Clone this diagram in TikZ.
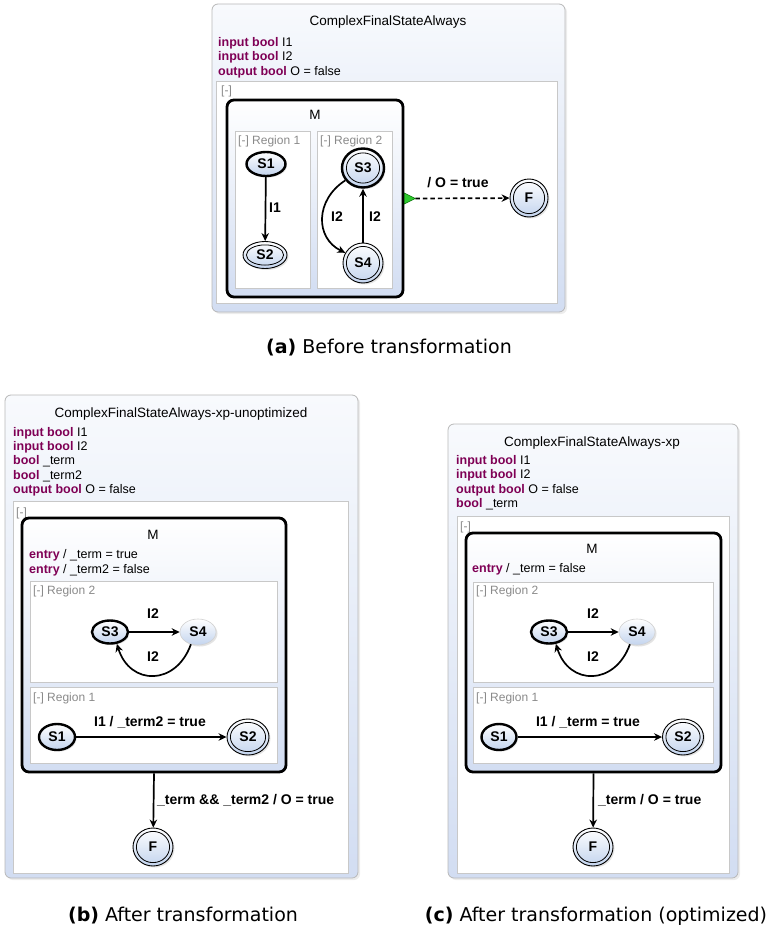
\documentclass[tikz,border=0pt]{standalone}
\usepackage{fontspec}
\setmainfont{Liberation Sans}
\newfontfamily\capfont{DejaVu Sans}
\usetikzlibrary{shapes.geometric,shadows,arrows.meta}
\definecolor{kwcol}{HTML}{7F0055}
\definecolor{stblue}{HTML}{C3D4EE}
\definecolor{boxtop}{HTML}{F8FAFD}
\definecolor{boxbot}{HTML}{D2DDF2}
\definecolor{regline}{HTML}{C8C8C8}
\definecolor{reggray}{HTML}{8A8A8A}
\definecolor{termgreen}{HTML}{2DC82D}
\newcommand{\fsBody}{\fontsize{12.5}{14.3}\selectfont}
\newcommand{\fsTitle}{\fontsize{13.5}{16}\selectfont}
\newcommand{\fsLab}{\fontsize{14}{16}\selectfont\bfseries}
\newcommand{\fsReg}{\fontsize{12}{14}\selectfont}
\newcommand{\kwd}[1]{\textcolor{kwcol}{\textbf{#1}}}
\begin{document}
\begin{tikzpicture}[x=1pt,y=-1pt,
  outerbox/.style 2 args={rectangle, minimum width=#1, minimum height=#2, inner sep=0pt, rounded corners=6pt, draw=black!28, line width=0.8pt, top color=boxtop, bottom color=boxbot, drop shadow={opacity=0.15, shadow xshift=2pt, shadow yshift=-2pt}},
  whitebox/.style 2 args={rectangle, minimum width=#1, minimum height=#2, inner sep=0pt, draw=regline, line width=0.8pt, fill=white},
  mbox/.style 2 args={rectangle, minimum width=#1, minimum height=#2, inner sep=0pt, rounded corners=7pt, draw=black, line width=2.8pt, top color=white, bottom color=boxbot},
  regbox/.style 2 args={rectangle, minimum width=#1, minimum height=#2, inner sep=0pt, draw=regline, line width=0.8pt, fill=white},
  stnode/.style 2 args={ellipse, minimum width=#1, minimum height=#2, inner sep=0pt, draw=black, line width=0.9pt, top color=white, bottom color=stblue, drop shadow={opacity=0.22, shadow xshift=1.5pt, shadow yshift=-1.5pt}, font=\fsLab},
  stinit/.style={line width=2.4pt},
  stplain/.style={draw=black!18, line width=0.6pt},
  stfinal/.style 2 args={path picture={\draw[line width=0.8pt,black] (path picture bounding box.center) ellipse [x radius=#1/2-3.4pt, y radius=#2/2-3.4pt];}},
  trans/.style={line width=1.7pt, -{Stealth[length=8pt,width=7.5pt]}},
  trlab/.style={font=\fsLab, inner sep=0pt},
  txt/.style={inner sep=0pt, font=\fsBody, anchor=base west},
  ttl/.style={inner sep=0pt, font=\fsTitle, anchor=base},
  reglab/.style={inner sep=0pt, font=\fsReg, text=reggray, anchor=base west},
  capt/.style={inner sep=0pt, font=\capfont\fontsize{19}{21}\selectfont, anchor=base}
]
\useasboundingbox (0,0) rectangle (767,928);

% ================= (a) =================
\node[outerbox={353pt}{308pt}] (OA) at (388.5,158) {};
\node[ttl] (TA) at (388,25.5) {ComplexFinalStateAlways};
\node[txt] (dA1) at (218,46.5) {\kwd{input bool} I1};
\node[txt] (dA2) at (218,60.8) {\kwd{input bool} I2};
\node[txt] (dA3) at (218,75.1) {\kwd{output bool} O = false};
\node[whitebox={341pt}{222pt}] (WA) at (386.5,192) {};
\node[reglab] (cA) at (221,94.5) {[-]};
\node[mbox={176pt}{197pt}] (MA) at (315,198.5) {};
\node[ttl] (MAl) at (315,120) {M};
\node[regbox={75pt}{157pt}] (R1A) at (272.5,209.5) {};
\node[regbox={75pt}{157pt}] (R2A) at (354.5,209.5) {};
\node[reglab] (R1Al) at (238,144.5) {[-] Region 1};
\node[reglab] (R2Al) at (320,144.5) {[-] Region 2};
\node[stnode={39pt}{24pt}, stinit] (S1a) at (266,164) {S1};
\node[stnode={44pt}{27pt}, stfinal={44pt}{27pt}] (S2a) at (265,255) {S2};
\node[stnode={42pt}{39pt}, stinit, stfinal={40pt}{37pt}] (S3a) at (363,168) {S3};
\node[stnode={40pt}{40pt}, stfinal={40pt}{40pt}] (S4a) at (363,263) {S4};
\node[stnode={38pt}{38pt}, stfinal={38pt}{38pt}] (Fa) at (529,198) {F};
\draw[trans] (S1a) -- (S2a);
\draw[trans] (S3a.215) .. controls (315,200) and (315,238) .. (S4a.150);
\draw[trans] (S4a) -- (S3a);
\coordinate (tipA) at ([xshift=11pt]MA.east);
\draw[trans, dash pattern=on 4.5pt off 3pt] (tipA) -- (Fa);
\filldraw[fill=termgreen, draw=green!40!black, line width=0.5pt] ([yshift=5.5pt]MA.east) -- (tipA) -- ([yshift=-5.5pt]MA.east) -- cycle;
\node[trlab] (lA1) at (275,208) {I1};
\node[trlab] (lA2) at (337,217) {I2};
\node[trlab] (lA3) at (375,217) {I2};
\node[trlab] (lA4) at (458,183) {/ O = true};
\node[capt] (capA) at (389,353.5) {\textbf{(a)} Before transformation};

% ================= (b) =================
\node[outerbox={353pt}{483pt}] (OB) at (181.5,636.5) {};
\node[ttl] (TB) at (181,417) {ComplexFinalStateAlways-xp-unoptimized};
\node[txt] (dB1) at (13,436.2) {\kwd{input bool} I1};
\node[txt] (dB2) at (13,450.5) {\kwd{input bool} I2};
\node[txt] (dB3) at (13,464.8) {\kwd{bool} \_term};
\node[txt] (dB4) at (13,479.1) {\kwd{bool} \_term2};
\node[txt] (dB5) at (13,493.4) {\kwd{output bool} O = false};
\node[whitebox={335pt}{372pt}] (WB) at (180.5,687) {};
\node[reglab] (cB) at (16,516) {[-]};
\node[mbox={264pt}{254pt}] (MB) at (154,645) {};
\node[ttl] (MBl) at (153,539) {M};
\node[txt] (eB1) at (29,558.5) {\kwd{entry} / \_term = true};
\node[txt] (eB2) at (29,573) {\kwd{entry} / \_term2 = false};
\node[regbox={247pt}{101pt}] (R2B) at (153.5,631.5) {};
\node[regbox={247pt}{76pt}] (R1B) at (153.5,725) {};
\node[reglab] (R2Bl) at (33,594.5) {[-] Region 2};
\node[reglab] (R1Bl) at (33,701.5) {[-] Region 1};
\node[stnode={36pt}{23pt}, stinit] (S3b) at (110,632) {S3};
\node[stnode={36pt}{26pt}, stplain] (S4b) at (198,632) {S4};
\node[stnode={36pt}{26pt}, stinit] (S1b) at (57,737) {S1};
\node[stnode={42pt}{36pt}, stfinal={42pt}{36pt}] (S2b) at (248,737) {S2};
\node[stnode={40pt}{38pt}, stfinal={40pt}{38pt}] (Fb) at (153,847) {F};
\draw[trans] (S3b) -- (S4b);
\draw[trans] (S4b.240) .. controls (176,686) and (130,686) .. (S3b.300);
\draw[trans] (S1b) -- (S2b);
\draw[trans] (MB.south) -- (Fb);
\node[trlab] (lB1) at (153,614) {I2};
\node[trlab] (lB2) at (153,657) {I2};
\node[trlab] (lB3) at (150,722) {I1 / \_term2 = true};
\node[trlab, anchor=west] (lB4) at (157,800) {\_term \&\& \_term2 / O = true};
\node[capt] (capB) at (183,921.5) {\textbf{(b)} After transformation};

% ================= (c) =================
\node[outerbox={290pt}{454pt}] (OC) at (593,651) {};
\node[ttl] (TC) at (592,446) {ComplexFinalStateAlways-xp};
\node[txt] (dC1) at (456,464.5) {\kwd{input bool} I1};
\node[txt] (dC2) at (456,478.8) {\kwd{input bool} I2};
\node[txt] (dC3) at (456,493.1) {\kwd{output bool} O = false};
\node[txt] (dC4) at (456,507.4) {\kwd{bool} \_term};
\node[whitebox={272pt}{357pt}] (WC) at (593,694.5) {};
\node[reglab] (cC) at (460,530.5) {[-]};
\node[mbox={255pt}{239pt}] (MC) at (593.5,652.5) {};
\node[ttl] (MCl) at (592,553) {M};
\node[txt] (eC1) at (472,572.5) {\kwd{entry} / \_term = false};
\node[regbox={240pt}{100pt}] (R2C) at (593,632) {};
\node[regbox={240pt}{76pt}] (R1C) at (593,725) {};
\node[reglab] (R2Cl) at (476,594.5) {[-] Region 2};
\node[reglab] (R1Cl) at (476,701.5) {[-] Region 1};
\node[stnode={36pt}{23pt}, stinit] (S3c) at (549,632) {S3};
\node[stnode={36pt}{26pt}, stplain] (S4c) at (637,632) {S4};
\node[stnode={35pt}{26pt}, stinit] (S1c) at (499,737) {S1};
\node[stnode={41pt}{36pt}, stfinal={41pt}{36pt}] (S2c) at (683,737) {S2};
\node[stnode={40pt}{38pt}, stfinal={40pt}{38pt}] (Fc) at (593,847) {F};
\draw[trans] (S3c) -- (S4c);
\draw[trans] (S4c.240) .. controls (615,686) and (569,686) .. (S3c.300);
\draw[trans] (S1c) -- (S2c);
\draw[trans] (MC.south) -- (Fc);
\node[trlab] (lC1) at (593,614) {I2};
\node[trlab] (lC2) at (593,657) {I2};
\node[trlab] (lC3) at (588,722) {I1 / \_term = true};
\node[trlab, anchor=west] (lC4) at (598,800) {\_term / O = true};
\node[capt] (capC) at (596,921.5) {\textbf{(c)} After transformation (optimized)};
\end{tikzpicture}
\end{document}
